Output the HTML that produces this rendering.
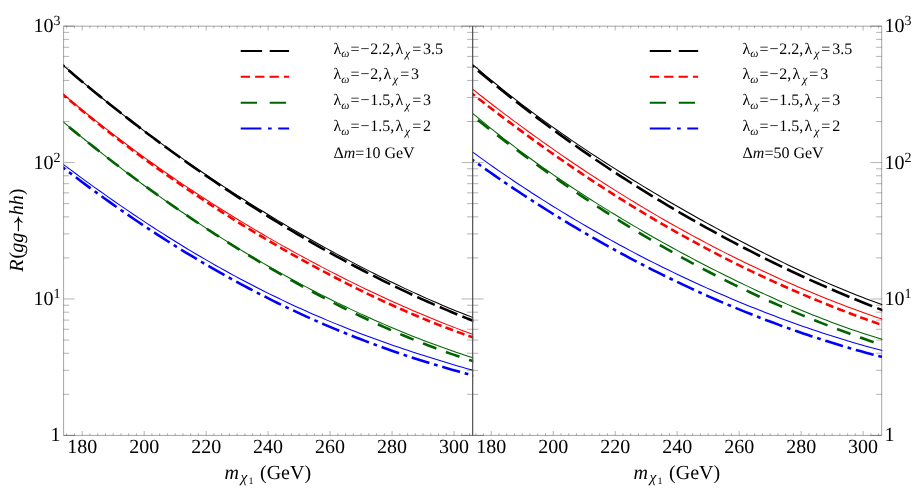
<!DOCTYPE html>
<html><head><meta charset="utf-8"><title>R(gg→hh)</title>
<style>html,body{margin:0;padding:0;background:#fff}body{width:922px;height:491px;overflow:hidden}</style>
</head><body>
<svg width="922" height="491" viewBox="0 0 922 491" style="display:block;will-change:transform">
<rect width="922" height="491" fill="#fff"/>
<defs>
<clipPath id="cl"><rect x="63.6" y="26.15" width="409.65" height="409.25"/></clipPath>
<clipPath id="cr"><rect x="472.65" y="26.15" width="409.65" height="409.25"/></clipPath>
</defs>
<g clip-path="url(#cl)" fill="none">
<path d="M51.10,54.43 L55.93,58.76 L60.76,63.05 L65.59,67.29 L70.42,71.49 L75.25,75.65 L80.07,79.76 L84.90,83.84 L89.73,87.88 L94.56,91.87 L99.39,95.83 L104.22,99.76 L109.05,103.64 L113.88,107.49 L118.71,111.30 L123.54,115.08 L128.36,118.83 L133.19,122.54 L138.02,126.22 L142.85,129.87 L147.68,133.48 L152.51,137.07 L157.34,140.62 L162.17,144.14 L167.00,147.63 L171.83,151.10 L176.65,154.53 L181.48,157.94 L186.31,161.31 L191.14,164.66 L195.97,167.99 L200.80,171.28 L205.63,174.55 L210.46,177.80 L215.29,181.01 L220.12,184.20 L224.95,187.37 L229.77,190.51 L234.60,193.63 L239.43,196.72 L244.26,199.79 L249.09,202.83 L253.92,205.85 L258.75,208.85 L263.58,211.82 L268.41,214.77 L273.24,217.69 L278.06,220.60 L282.89,223.48 L287.72,226.33 L292.55,229.16 L297.38,231.97 L302.21,234.76 L307.04,237.53 L311.87,240.27 L316.70,242.99 L321.53,245.68 L326.35,248.35 L331.18,251.00 L336.01,253.63 L340.84,256.23 L345.67,258.81 L350.50,261.37 L355.33,263.90 L360.16,266.41 L364.99,268.89 L369.82,271.35 L374.65,273.79 L379.47,276.20 L384.30,278.58 L389.13,280.95 L393.96,283.28 L398.79,285.59 L403.62,287.87 L408.45,290.13 L413.28,292.36 L418.11,294.56 L422.94,296.74 L427.76,298.88 L432.59,301.00 L437.42,303.09 L442.25,305.15 L447.08,307.18 L451.91,309.19 L456.74,311.16 L461.57,313.09 L466.40,315.00 L471.23,316.88 L476.05,318.72 L480.88,320.53" stroke="#000000" stroke-width="1.05"/>
<path d="M51.10,83.94 L55.93,88.08 L60.76,92.19 L65.59,96.25 L70.42,100.28 L75.25,104.27 L80.07,108.22 L84.90,112.13 L89.73,116.01 L94.56,119.85 L99.39,123.66 L104.22,127.43 L109.05,131.16 L113.88,134.86 L118.71,138.53 L123.54,142.17 L128.36,145.77 L133.19,149.34 L138.02,152.87 L142.85,156.38 L147.68,159.85 L152.51,163.30 L157.34,166.71 L162.17,170.10 L167.00,173.45 L171.83,176.77 L176.65,180.07 L181.48,183.34 L186.31,186.58 L191.14,189.79 L195.97,192.97 L200.80,196.13 L205.63,199.26 L210.46,202.36 L215.29,205.44 L220.12,208.49 L224.95,211.52 L229.77,214.52 L234.60,217.49 L239.43,220.44 L244.26,223.36 L249.09,226.26 L253.92,229.13 L258.75,231.98 L263.58,234.81 L268.41,237.61 L273.24,240.39 L278.06,243.14 L282.89,245.87 L287.72,248.57 L292.55,251.25 L297.38,253.91 L302.21,256.55 L307.04,259.16 L311.87,261.75 L316.70,264.31 L321.53,266.85 L326.35,269.37 L331.18,271.86 L336.01,274.34 L340.84,276.79 L345.67,279.21 L350.50,281.61 L355.33,283.99 L360.16,286.35 L364.99,288.68 L369.82,290.99 L374.65,293.27 L379.47,295.53 L384.30,297.77 L389.13,299.98 L393.96,302.17 L398.79,304.34 L403.62,306.48 L408.45,308.60 L413.28,310.69 L418.11,312.75 L422.94,314.80 L427.76,316.81 L432.59,318.81 L437.42,320.77 L442.25,322.71 L447.08,324.63 L451.91,326.51 L456.74,328.38 L461.57,330.21 L466.40,332.02 L471.23,333.80 L476.05,335.55 L480.88,337.27" stroke="#ff0000" stroke-width="1.05"/>
<path d="M51.10,111.45 L55.93,115.60 L60.76,119.71 L65.59,123.78 L70.42,127.83 L75.25,131.83 L80.07,135.81 L84.90,139.75 L89.73,143.65 L94.56,147.53 L99.39,151.37 L104.22,155.17 L109.05,158.95 L113.88,162.69 L118.71,166.40 L123.54,170.08 L128.36,173.72 L133.19,177.34 L138.02,180.92 L142.85,184.47 L147.68,187.99 L152.51,191.48 L157.34,194.94 L162.17,198.36 L167.00,201.76 L171.83,205.12 L176.65,208.46 L181.48,211.76 L186.31,215.04 L191.14,218.28 L195.97,221.50 L200.80,224.68 L205.63,227.84 L210.46,230.96 L215.29,234.06 L220.12,237.13 L224.95,240.16 L229.77,243.17 L234.60,246.15 L239.43,249.10 L244.26,252.02 L249.09,254.92 L253.92,257.78 L258.75,260.62 L263.58,263.42 L268.41,266.20 L273.24,268.95 L278.06,271.67 L282.89,274.37 L287.72,277.03 L292.55,279.67 L297.38,282.28 L302.21,284.86 L307.04,287.41 L311.87,289.93 L316.70,292.43 L321.53,294.89 L326.35,297.33 L331.18,299.74 L336.01,302.12 L340.84,304.48 L345.67,306.80 L350.50,309.10 L355.33,311.37 L360.16,313.61 L364.99,315.83 L369.82,318.01 L374.65,320.17 L379.47,322.29 L384.30,324.39 L389.13,326.46 L393.96,328.51 L398.79,330.52 L403.62,332.51 L408.45,334.46 L413.28,336.39 L418.11,338.29 L422.94,340.16 L427.76,342.00 L432.59,343.81 L437.42,345.59 L442.25,347.34 L447.08,349.07 L451.91,350.76 L456.74,352.43 L461.57,354.06 L466.40,355.66 L471.23,357.24 L476.05,358.78 L480.88,360.30" stroke="#006400" stroke-width="1.05"/>
<path d="M51.10,155.14 L55.93,158.80 L60.76,162.45 L65.59,166.07 L70.42,169.67 L75.25,173.24 L80.07,176.80 L84.90,180.32 L89.73,183.83 L94.56,187.31 L99.39,190.76 L104.22,194.19 L109.05,197.59 L113.88,200.97 L118.71,204.32 L123.54,207.64 L128.36,210.93 L133.19,214.20 L138.02,217.43 L142.85,220.64 L147.68,223.82 L152.51,226.97 L157.34,230.09 L162.17,233.18 L167.00,236.24 L171.83,239.27 L176.65,242.27 L181.48,245.24 L186.31,248.18 L191.14,251.09 L195.97,253.97 L200.80,256.82 L205.63,259.63 L210.46,262.41 L215.29,265.17 L220.12,267.89 L224.95,270.58 L229.77,273.24 L234.60,275.86 L239.43,278.46 L244.26,281.02 L249.09,283.55 L253.92,286.05 L258.75,288.52 L263.58,290.96 L268.41,293.37 L273.24,295.74 L278.06,298.09 L282.89,300.40 L287.72,302.68 L292.55,304.94 L297.38,307.16 L302.21,309.35 L307.04,311.51 L311.87,313.65 L316.70,315.75 L321.53,317.82 L326.35,319.87 L331.18,321.89 L336.01,323.87 L340.84,325.83 L345.67,327.77 L350.50,329.67 L355.33,331.55 L360.16,333.41 L364.99,335.23 L369.82,337.03 L374.65,338.81 L379.47,340.56 L384.30,342.29 L389.13,343.99 L393.96,345.67 L398.79,347.33 L403.62,348.96 L408.45,350.57 L413.28,352.16 L418.11,353.73 L422.94,355.29 L427.76,356.82 L432.59,358.33 L437.42,359.82 L442.25,361.30 L447.08,362.76 L451.91,364.21 L456.74,365.64 L461.57,367.05 L466.40,368.45 L471.23,369.84 L476.05,371.21 L480.88,372.57" stroke="#0000ff" stroke-width="1.05"/>
<path d="M51.10,55.17 L55.93,59.38 L60.76,63.55 L65.59,67.70 L70.42,71.81 L75.25,75.90 L80.07,79.95 L84.90,83.98 L89.73,87.97 L94.56,91.93 L99.39,95.87 L104.22,99.78 L109.05,103.66 L113.88,107.51 L118.71,111.33 L123.54,115.12 L128.36,118.88 L133.19,122.62 L138.02,126.33 L142.85,130.01 L147.68,133.67 L152.51,137.30 L157.34,140.90 L162.17,144.47 L167.00,148.02 L171.83,151.54 L176.65,155.03 L181.48,158.50 L186.31,161.94 L191.14,165.36 L195.97,168.75 L200.80,172.11 L205.63,175.45 L210.46,178.76 L215.29,182.05 L220.12,185.31 L224.95,188.55 L229.77,191.76 L234.60,194.95 L239.43,198.11 L244.26,201.25 L249.09,204.36 L253.92,207.44 L258.75,210.50 L263.58,213.54 L268.41,216.55 L273.24,219.54 L278.06,222.50 L282.89,225.43 L287.72,228.34 L292.55,231.23 L297.38,234.09 L302.21,236.93 L307.04,239.74 L311.87,242.53 L316.70,245.29 L321.53,248.03 L326.35,250.74 L331.18,253.42 L336.01,256.09 L340.84,258.72 L345.67,261.33 L350.50,263.92 L355.33,266.48 L360.16,269.01 L364.99,271.52 L369.82,274.01 L374.65,276.46 L379.47,278.90 L384.30,281.30 L389.13,283.68 L393.96,286.04 L398.79,288.36 L403.62,290.66 L408.45,292.94 L413.28,295.18 L418.11,297.40 L422.94,299.60 L427.76,301.76 L432.59,303.90 L437.42,306.01 L442.25,308.09 L447.08,310.15 L451.91,312.18 L456.74,314.18 L461.57,316.15 L466.40,318.09 L471.23,320.00 L476.05,321.88 L480.88,323.74" stroke="#000000" stroke-width="2.6" stroke-linecap="square" stroke-dasharray="16.47 8.08" stroke-dashoffset="0.22999999999999893"/>
<path d="M51.10,84.35 L55.93,88.55 L60.76,92.70 L65.59,96.81 L70.42,100.89 L75.25,104.92 L80.07,108.92 L84.90,112.89 L89.73,116.82 L94.56,120.71 L99.39,124.56 L104.22,128.39 L109.05,132.17 L113.88,135.93 L118.71,139.65 L123.54,143.34 L128.36,146.99 L133.19,150.62 L138.02,154.21 L142.85,157.78 L147.68,161.31 L152.51,164.81 L157.34,168.28 L162.17,171.73 L167.00,175.14 L171.83,178.53 L176.65,181.88 L181.48,185.21 L186.31,188.52 L191.14,191.79 L195.97,195.04 L200.80,198.26 L205.63,201.45 L210.46,204.62 L215.29,207.76 L220.12,210.87 L224.95,213.96 L229.77,217.02 L234.60,220.06 L239.43,223.07 L244.26,226.05 L249.09,229.01 L253.92,231.95 L258.75,234.86 L263.58,237.74 L268.41,240.60 L273.24,243.44 L278.06,246.25 L282.89,249.03 L287.72,251.79 L292.55,254.53 L297.38,257.24 L302.21,259.92 L307.04,262.58 L311.87,265.22 L316.70,267.83 L321.53,270.41 L326.35,272.97 L331.18,275.51 L336.01,278.01 L340.84,280.50 L345.67,282.95 L350.50,285.38 L355.33,287.78 L360.16,290.16 L364.99,292.51 L369.82,294.83 L374.65,297.13 L379.47,299.40 L384.30,301.64 L389.13,303.85 L393.96,306.03 L398.79,308.18 L403.62,310.31 L408.45,312.41 L413.28,314.47 L418.11,316.51 L422.94,318.51 L427.76,320.49 L432.59,322.43 L437.42,324.34 L442.25,326.22 L447.08,328.06 L451.91,329.88 L456.74,331.66 L461.57,333.40 L466.40,335.11 L471.23,336.79 L476.05,338.43 L480.88,340.03" stroke="#ff0000" stroke-width="2.6" stroke-linecap="square" stroke-dasharray="5.46 6.79" stroke-dashoffset="11.047500000000001"/>
<path d="M51.10,112.05 L55.93,116.13 L60.76,120.17 L65.59,124.19 L70.42,128.17 L75.25,132.13 L80.07,136.05 L84.90,139.94 L89.73,143.81 L94.56,147.64 L99.39,151.44 L104.22,155.22 L109.05,158.96 L113.88,162.68 L118.71,166.36 L123.54,170.02 L128.36,173.65 L133.19,177.26 L138.02,180.83 L142.85,184.38 L147.68,187.89 L152.51,191.39 L157.34,194.85 L162.17,198.29 L167.00,201.69 L171.83,205.08 L176.65,208.43 L181.48,211.76 L186.31,215.06 L191.14,218.33 L195.97,221.58 L200.80,224.80 L205.63,227.99 L210.46,231.16 L215.29,234.30 L220.12,237.42 L224.95,240.51 L229.77,243.57 L234.60,246.60 L239.43,249.61 L244.26,252.59 L249.09,255.55 L253.92,258.48 L258.75,261.38 L263.58,264.25 L268.41,267.10 L273.24,269.92 L278.06,272.72 L282.89,275.49 L287.72,278.23 L292.55,280.94 L297.38,283.63 L302.21,286.29 L307.04,288.92 L311.87,291.52 L316.70,294.10 L321.53,296.65 L326.35,299.17 L331.18,301.66 L336.01,304.12 L340.84,306.56 L345.67,308.96 L350.50,311.34 L355.33,313.69 L360.16,316.00 L364.99,318.29 L369.82,320.55 L374.65,322.78 L379.47,324.98 L384.30,327.15 L389.13,329.28 L393.96,331.39 L398.79,333.46 L403.62,335.51 L408.45,337.52 L413.28,339.49 L418.11,341.44 L422.94,343.35 L427.76,345.23 L432.59,347.08 L437.42,348.89 L442.25,350.67 L447.08,352.41 L451.91,354.12 L456.74,355.79 L461.57,357.42 L466.40,359.02 L471.23,360.59 L476.05,362.11 L480.88,363.60" stroke="#006400" stroke-width="2.6" stroke-linecap="square" stroke-dasharray="11.78 12.72" stroke-dashoffset="24.395"/>
<path d="M51.10,158.26 L55.93,162.03 L60.76,165.78 L65.59,169.50 L70.42,173.20 L75.25,176.86 L80.07,180.49 L84.90,184.10 L89.73,187.67 L94.56,191.21 L99.39,194.73 L104.22,198.21 L109.05,201.67 L113.88,205.09 L118.71,208.49 L123.54,211.85 L128.36,215.19 L133.19,218.49 L138.02,221.76 L142.85,225.01 L147.68,228.22 L152.51,231.40 L157.34,234.55 L162.17,237.67 L167.00,240.75 L171.83,243.81 L176.65,246.84 L181.48,249.83 L186.31,252.80 L191.14,255.73 L195.97,258.63 L200.80,261.50 L205.63,264.34 L210.46,267.15 L215.29,269.93 L220.12,272.67 L224.95,275.39 L229.77,278.07 L234.60,280.72 L239.43,283.35 L244.26,285.94 L249.09,288.50 L253.92,291.03 L258.75,293.53 L263.58,295.99 L268.41,298.43 L273.24,300.84 L278.06,303.22 L282.89,305.56 L287.72,307.88 L292.55,310.16 L297.38,312.42 L302.21,314.64 L307.04,316.84 L311.87,319.01 L316.70,321.14 L321.53,323.25 L326.35,325.33 L331.18,327.38 L336.01,329.40 L340.84,331.39 L345.67,333.35 L350.50,335.28 L355.33,337.19 L360.16,339.06 L364.99,340.91 L369.82,342.73 L374.65,344.53 L379.47,346.29 L384.30,348.03 L389.13,349.75 L393.96,351.43 L398.79,353.09 L403.62,354.72 L408.45,356.33 L413.28,357.91 L418.11,359.46 L422.94,360.99 L427.76,362.50 L432.59,363.97 L437.42,365.43 L442.25,366.86 L447.08,368.27 L451.91,369.65 L456.74,371.01 L461.57,372.34 L466.40,373.66 L471.23,374.95 L476.05,376.22 L480.88,377.46" stroke="#0000ff" stroke-width="2.6" stroke-linecap="square" stroke-dasharray="15.87 7.45 1.14 7.45" stroke-dashoffset="31.257690259943622"/>
</g>
<g clip-path="url(#cr)" fill="none">
<path d="M460.30,53.67 L465.13,57.95 L469.96,62.18 L474.79,66.36 L479.62,70.47 L484.45,74.54 L489.27,78.55 L494.10,82.51 L498.93,86.43 L503.76,90.29 L508.59,94.11 L513.42,97.88 L518.25,101.61 L523.08,105.30 L527.91,108.95 L532.74,112.55 L537.56,116.12 L542.39,119.65 L547.22,123.14 L552.05,126.60 L556.88,130.02 L561.71,133.40 L566.54,136.76 L571.37,140.08 L576.20,143.37 L581.03,146.63 L585.85,149.86 L590.68,153.07 L595.51,156.24 L600.34,159.39 L605.17,162.51 L610.00,165.61 L614.83,168.68 L619.66,171.72 L624.49,174.74 L629.32,177.74 L634.15,180.72 L638.97,183.67 L643.80,186.60 L648.63,189.51 L653.46,192.40 L658.29,195.27 L663.12,198.12 L667.95,200.94 L672.78,203.75 L677.61,206.54 L682.44,209.30 L687.26,212.05 L692.09,214.78 L696.92,217.49 L701.75,220.18 L706.58,222.85 L711.41,225.50 L716.24,228.14 L721.07,230.75 L725.90,233.35 L730.73,235.92 L735.55,238.48 L740.38,241.01 L745.21,243.53 L750.04,246.03 L754.87,248.50 L759.70,250.96 L764.53,253.39 L769.36,255.80 L774.19,258.19 L779.02,260.56 L783.85,262.90 L788.67,265.22 L793.50,267.52 L798.33,269.79 L803.16,272.04 L807.99,274.26 L812.82,276.46 L817.65,278.63 L822.48,280.77 L827.31,282.88 L832.14,284.96 L836.96,287.01 L841.79,289.04 L846.62,291.03 L851.45,292.98 L856.28,294.91 L861.11,296.79 L865.94,298.65 L870.77,300.46 L875.60,302.24 L880.43,303.98 L885.25,305.68 L890.08,307.33" stroke="#000000" stroke-width="1.05"/>
<path d="M460.30,79.43 L465.13,83.30 L469.96,87.15 L474.79,90.96 L479.62,94.76 L484.45,98.52 L489.27,102.26 L494.10,105.97 L498.93,109.66 L503.76,113.32 L508.59,116.95 L513.42,120.56 L518.25,124.14 L523.08,127.69 L527.91,131.21 L532.74,134.71 L537.56,138.18 L542.39,141.63 L547.22,145.05 L552.05,148.44 L556.88,151.81 L561.71,155.14 L566.54,158.46 L571.37,161.74 L576.20,165.00 L581.03,168.24 L585.85,171.44 L590.68,174.62 L595.51,177.78 L600.34,180.91 L605.17,184.01 L610.00,187.08 L614.83,190.13 L619.66,193.16 L624.49,196.15 L629.32,199.12 L634.15,202.07 L638.97,204.99 L643.80,207.88 L648.63,210.74 L653.46,213.58 L658.29,216.40 L663.12,219.19 L667.95,221.95 L672.78,224.69 L677.61,227.40 L682.44,230.08 L687.26,232.74 L692.09,235.38 L696.92,237.99 L701.75,240.57 L706.58,243.13 L711.41,245.66 L716.24,248.16 L721.07,250.65 L725.90,253.10 L730.73,255.53 L735.55,257.94 L740.38,260.32 L745.21,262.67 L750.04,265.00 L754.87,267.31 L759.70,269.59 L764.53,271.84 L769.36,274.07 L774.19,276.28 L779.02,278.46 L783.85,280.61 L788.67,282.74 L793.50,284.85 L798.33,286.93 L803.16,288.99 L807.99,291.02 L812.82,293.03 L817.65,295.01 L822.48,296.97 L827.31,298.91 L832.14,300.82 L836.96,302.71 L841.79,304.57 L846.62,306.41 L851.45,308.23 L856.28,310.02 L861.11,311.79 L865.94,313.53 L870.77,315.25 L875.60,316.95 L880.43,318.62 L885.25,320.27 L890.08,321.90" stroke="#ff0000" stroke-width="1.05"/>
<path d="M460.30,102.81 L465.13,106.99 L469.96,111.12 L474.79,115.19 L479.62,119.21 L484.45,123.17 L489.27,127.09 L494.10,130.96 L498.93,134.77 L503.76,138.54 L508.59,142.27 L513.42,145.94 L518.25,149.58 L523.08,153.17 L527.91,156.72 L532.74,160.23 L537.56,163.70 L542.39,167.13 L547.22,170.53 L552.05,173.89 L556.88,177.21 L561.71,180.49 L566.54,183.74 L571.37,186.96 L576.20,190.15 L581.03,193.30 L585.85,196.43 L590.68,199.52 L595.51,202.58 L600.34,205.62 L605.17,208.62 L610.00,211.60 L614.83,214.55 L619.66,217.47 L624.49,220.37 L629.32,223.24 L634.15,226.09 L638.97,228.91 L643.80,231.70 L648.63,234.48 L653.46,237.22 L658.29,239.95 L663.12,242.65 L667.95,245.33 L672.78,247.98 L677.61,250.61 L682.44,253.22 L687.26,255.81 L692.09,258.37 L696.92,260.92 L701.75,263.44 L706.58,265.93 L711.41,268.41 L716.24,270.86 L721.07,273.29 L725.90,275.70 L730.73,278.09 L735.55,280.45 L740.38,282.79 L745.21,285.11 L750.04,287.40 L754.87,289.67 L759.70,291.92 L764.53,294.14 L769.36,296.33 L774.19,298.51 L779.02,300.65 L783.85,302.77 L788.67,304.87 L793.50,306.94 L798.33,308.98 L803.16,310.99 L807.99,312.97 L812.82,314.93 L817.65,316.85 L822.48,318.75 L827.31,320.61 L832.14,322.44 L836.96,324.24 L841.79,326.01 L846.62,327.74 L851.45,329.43 L856.28,331.09 L861.11,332.72 L865.94,334.30 L870.77,335.85 L875.60,337.36 L880.43,338.83 L885.25,340.25 L890.08,341.64" stroke="#006400" stroke-width="1.05"/>
<path d="M460.30,142.98 L465.13,146.58 L469.96,150.15 L474.79,153.68 L479.62,157.18 L484.45,160.64 L489.27,164.07 L494.10,167.46 L498.93,170.82 L503.76,174.15 L508.59,177.44 L513.42,180.71 L518.25,183.94 L523.08,187.14 L527.91,190.30 L532.74,193.44 L537.56,196.55 L542.39,199.62 L547.22,202.67 L552.05,205.69 L556.88,208.67 L561.71,211.63 L566.54,214.56 L571.37,217.46 L576.20,220.33 L581.03,223.17 L585.85,225.99 L590.68,228.78 L595.51,231.54 L600.34,234.27 L605.17,236.98 L610.00,239.66 L614.83,242.31 L619.66,244.94 L624.49,247.54 L629.32,250.11 L634.15,252.66 L638.97,255.19 L643.80,257.68 L648.63,260.16 L653.46,262.60 L658.29,265.02 L663.12,267.42 L667.95,269.79 L672.78,272.14 L677.61,274.46 L682.44,276.76 L687.26,279.03 L692.09,281.28 L696.92,283.51 L701.75,285.71 L706.58,287.89 L711.41,290.04 L716.24,292.17 L721.07,294.27 L725.90,296.35 L730.73,298.41 L735.55,300.44 L740.38,302.45 L745.21,304.44 L750.04,306.40 L754.87,308.33 L759.70,310.25 L764.53,312.14 L769.36,314.00 L774.19,315.84 L779.02,317.66 L783.85,319.45 L788.67,321.22 L793.50,322.97 L798.33,324.69 L803.16,326.39 L807.99,328.06 L812.82,329.70 L817.65,331.33 L822.48,332.92 L827.31,334.50 L832.14,336.05 L836.96,337.57 L841.79,339.06 L846.62,340.54 L851.45,341.98 L856.28,343.40 L861.11,344.80 L865.94,346.17 L870.77,347.51 L875.60,348.83 L880.43,350.11 L885.25,351.38 L890.08,352.61" stroke="#0000ff" stroke-width="1.05"/>
<path d="M460.30,55.66 L465.13,59.82 L469.96,63.95 L474.79,68.04 L479.62,72.10 L484.45,76.12 L489.27,80.10 L494.10,84.05 L498.93,87.97 L503.76,91.85 L508.59,95.69 L513.42,99.51 L518.25,103.29 L523.08,107.04 L527.91,110.75 L532.74,114.44 L537.56,118.09 L542.39,121.71 L547.22,125.30 L552.05,128.85 L556.88,132.38 L561.71,135.88 L566.54,139.34 L571.37,142.78 L576.20,146.19 L581.03,149.56 L585.85,152.91 L590.68,156.23 L595.51,159.52 L600.34,162.78 L605.17,166.02 L610.00,169.23 L614.83,172.40 L619.66,175.56 L624.49,178.68 L629.32,181.78 L634.15,184.85 L638.97,187.89 L643.80,190.91 L648.63,193.90 L653.46,196.86 L658.29,199.80 L663.12,202.72 L667.95,205.61 L672.78,208.47 L677.61,211.31 L682.44,214.12 L687.26,216.91 L692.09,219.67 L696.92,222.41 L701.75,225.12 L706.58,227.81 L711.41,230.48 L716.24,233.12 L721.07,235.74 L725.90,238.34 L730.73,240.91 L735.55,243.46 L740.38,245.98 L745.21,248.48 L750.04,250.96 L754.87,253.42 L759.70,255.85 L764.53,258.26 L769.36,260.65 L774.19,263.01 L779.02,265.35 L783.85,267.67 L788.67,269.97 L793.50,272.24 L798.33,274.49 L803.16,276.72 L807.99,278.93 L812.82,281.11 L817.65,283.27 L822.48,285.41 L827.31,287.53 L832.14,289.63 L836.96,291.70 L841.79,293.75 L846.62,295.78 L851.45,297.79 L856.28,299.77 L861.11,301.74 L865.94,303.68 L870.77,305.60 L875.60,307.49 L880.43,309.37 L885.25,311.22 L890.08,313.05" stroke="#000000" stroke-width="2.6" stroke-linecap="square" stroke-dasharray="16.47 8.09" stroke-dashoffset="0.05666598778003994"/>
<path d="M460.30,84.33 L465.13,88.16 L469.96,91.97 L474.79,95.75 L479.62,99.51 L484.45,103.26 L489.27,106.98 L494.10,110.67 L498.93,114.35 L503.76,118.00 L508.59,121.63 L513.42,125.24 L518.25,128.82 L523.08,132.38 L527.91,135.91 L532.74,139.42 L537.56,142.91 L542.39,146.37 L547.22,149.80 L552.05,153.21 L556.88,156.60 L561.71,159.96 L566.54,163.30 L571.37,166.61 L576.20,169.90 L581.03,173.16 L585.85,176.39 L590.68,179.60 L595.51,182.78 L600.34,185.94 L605.17,189.06 L610.00,192.17 L614.83,195.24 L619.66,198.30 L624.49,201.32 L629.32,204.32 L634.15,207.29 L638.97,210.23 L643.80,213.15 L648.63,216.04 L653.46,218.90 L658.29,221.74 L663.12,224.55 L667.95,227.33 L672.78,230.09 L677.61,232.82 L682.44,235.53 L687.26,238.20 L692.09,240.85 L696.92,243.47 L701.75,246.07 L706.58,248.64 L711.41,251.18 L716.24,253.70 L721.07,256.19 L725.90,258.66 L730.73,261.09 L735.55,263.51 L740.38,265.89 L745.21,268.25 L750.04,270.59 L754.87,272.90 L759.70,275.18 L764.53,277.44 L769.36,279.67 L774.19,281.88 L779.02,284.06 L783.85,286.21 L788.67,288.35 L793.50,290.45 L798.33,292.54 L803.16,294.60 L807.99,296.63 L812.82,298.64 L817.65,300.63 L822.48,302.60 L827.31,304.54 L832.14,306.46 L836.96,308.35 L841.79,310.23 L846.62,312.08 L851.45,313.91 L856.28,315.72 L861.11,317.50 L865.94,319.27 L870.77,321.01 L875.60,322.74 L880.43,324.44 L885.25,326.12 L890.08,327.79" stroke="#ff0000" stroke-width="2.6" stroke-linecap="square" stroke-dasharray="5.46 6.82" stroke-dashoffset="0.49075000000000013"/>
<path d="M460.30,106.23 L465.13,110.09 L469.96,113.93 L474.79,117.75 L479.62,121.54 L484.45,125.31 L489.27,129.06 L494.10,132.79 L498.93,136.50 L503.76,140.18 L508.59,143.83 L513.42,147.47 L518.25,151.07 L523.08,154.66 L527.91,158.21 L532.74,161.75 L537.56,165.26 L542.39,168.74 L547.22,172.19 L552.05,175.62 L556.88,179.03 L561.71,182.40 L566.54,185.75 L571.37,189.08 L576.20,192.37 L581.03,195.64 L585.85,198.88 L590.68,202.09 L595.51,205.28 L600.34,208.44 L605.17,211.57 L610.00,214.67 L614.83,217.74 L619.66,220.79 L624.49,223.81 L629.32,226.80 L634.15,229.76 L638.97,232.69 L643.80,235.59 L648.63,238.47 L653.46,241.31 L658.29,244.13 L663.12,246.92 L667.95,249.68 L672.78,252.41 L677.61,255.11 L682.44,257.79 L687.26,260.44 L692.09,263.05 L696.92,265.64 L701.75,268.20 L706.58,270.74 L711.41,273.24 L716.24,275.72 L721.07,278.16 L725.90,280.59 L730.73,282.98 L735.55,285.34 L740.38,287.68 L745.21,289.99 L750.04,292.27 L754.87,294.53 L759.70,296.76 L764.53,298.96 L769.36,301.14 L774.19,303.29 L779.02,305.41 L783.85,307.51 L788.67,309.58 L793.50,311.63 L798.33,313.65 L803.16,315.65 L807.99,317.62 L812.82,319.57 L817.65,321.50 L822.48,323.40 L827.31,325.28 L832.14,327.13 L836.96,328.96 L841.79,330.77 L846.62,332.56 L851.45,334.33 L856.28,336.07 L861.11,337.79 L865.94,339.50 L870.77,341.18 L875.60,342.84 L880.43,344.49 L885.25,346.11 L890.08,347.72" stroke="#006400" stroke-width="2.6" stroke-linecap="square" stroke-dasharray="11.78 12.76" stroke-dashoffset="0.8462499999999997"/>
<path d="M460.30,150.95 L465.13,154.50 L469.96,158.01 L474.79,161.50 L479.62,164.96 L484.45,168.39 L489.27,171.78 L494.10,175.15 L498.93,178.49 L503.76,181.80 L508.59,185.08 L513.42,188.32 L518.25,191.54 L523.08,194.74 L527.91,197.90 L532.74,201.03 L537.56,204.13 L542.39,207.21 L547.22,210.25 L552.05,213.27 L556.88,216.26 L561.71,219.22 L566.54,222.16 L571.37,225.06 L576.20,227.94 L581.03,230.79 L585.85,233.62 L590.68,236.41 L595.51,239.18 L600.34,241.92 L605.17,244.63 L610.00,247.32 L614.83,249.98 L619.66,252.61 L624.49,255.22 L629.32,257.80 L634.15,260.35 L638.97,262.87 L643.80,265.37 L648.63,267.85 L653.46,270.29 L658.29,272.71 L663.12,275.11 L667.95,277.48 L672.78,279.82 L677.61,282.13 L682.44,284.42 L687.26,286.69 L692.09,288.93 L696.92,291.14 L701.75,293.33 L706.58,295.49 L711.41,297.63 L716.24,299.74 L721.07,301.82 L725.90,303.88 L730.73,305.92 L735.55,307.93 L740.38,309.91 L745.21,311.87 L750.04,313.80 L754.87,315.71 L759.70,317.59 L764.53,319.45 L769.36,321.28 L774.19,323.09 L779.02,324.88 L783.85,326.63 L788.67,328.37 L793.50,330.07 L798.33,331.76 L803.16,333.42 L807.99,335.05 L812.82,336.66 L817.65,338.24 L822.48,339.80 L827.31,341.33 L832.14,342.84 L836.96,344.32 L841.79,345.78 L846.62,347.22 L851.45,348.62 L856.28,350.01 L861.11,351.37 L865.94,352.70 L870.77,354.01 L875.60,355.29 L880.43,356.55 L885.25,357.79 L890.08,359.00" stroke="#0000ff" stroke-width="2.6" stroke-linecap="square" stroke-dasharray="15.87 7.44 1.14 7.44" stroke-dashoffset="0.05025367992483254"/>
</g>
<line x1="63.60" y1="26.15" x2="472.65" y2="26.15" stroke="#000" stroke-width="0.36"/>
<line x1="63.60" y1="435.40" x2="472.65" y2="435.40" stroke="#000" stroke-width="0.36"/>
<line x1="63.60" y1="26.15" x2="63.60" y2="435.40" stroke="#000" stroke-width="0.36"/>
<line x1="472.65" y1="26.15" x2="472.65" y2="435.40" stroke="#000" stroke-width="0.36"/>
<line x1="66.70" y1="435.40" x2="66.70" y2="433.20" stroke="#000" stroke-width="0.3"/>
<line x1="66.70" y1="26.15" x2="66.70" y2="28.35" stroke="#000" stroke-width="0.3"/>
<line x1="74.45" y1="435.40" x2="74.45" y2="433.20" stroke="#000" stroke-width="0.3"/>
<line x1="74.45" y1="26.15" x2="74.45" y2="28.35" stroke="#000" stroke-width="0.3"/>
<line x1="82.19" y1="435.40" x2="82.19" y2="431.00" stroke="#000" stroke-width="0.3"/>
<line x1="82.19" y1="26.15" x2="82.19" y2="30.55" stroke="#000" stroke-width="0.3"/>
<line x1="89.94" y1="435.40" x2="89.94" y2="433.20" stroke="#000" stroke-width="0.3"/>
<line x1="89.94" y1="26.15" x2="89.94" y2="28.35" stroke="#000" stroke-width="0.3"/>
<line x1="97.69" y1="435.40" x2="97.69" y2="433.20" stroke="#000" stroke-width="0.3"/>
<line x1="97.69" y1="26.15" x2="97.69" y2="28.35" stroke="#000" stroke-width="0.3"/>
<line x1="105.43" y1="435.40" x2="105.43" y2="433.20" stroke="#000" stroke-width="0.3"/>
<line x1="105.43" y1="26.15" x2="105.43" y2="28.35" stroke="#000" stroke-width="0.3"/>
<line x1="113.18" y1="435.40" x2="113.18" y2="433.20" stroke="#000" stroke-width="0.3"/>
<line x1="113.18" y1="26.15" x2="113.18" y2="28.35" stroke="#000" stroke-width="0.3"/>
<line x1="120.93" y1="435.40" x2="120.93" y2="433.20" stroke="#000" stroke-width="0.3"/>
<line x1="120.93" y1="26.15" x2="120.93" y2="28.35" stroke="#000" stroke-width="0.3"/>
<line x1="128.68" y1="435.40" x2="128.68" y2="433.20" stroke="#000" stroke-width="0.3"/>
<line x1="128.68" y1="26.15" x2="128.68" y2="28.35" stroke="#000" stroke-width="0.3"/>
<line x1="136.42" y1="435.40" x2="136.42" y2="433.20" stroke="#000" stroke-width="0.3"/>
<line x1="136.42" y1="26.15" x2="136.42" y2="28.35" stroke="#000" stroke-width="0.3"/>
<line x1="144.17" y1="435.40" x2="144.17" y2="431.00" stroke="#000" stroke-width="0.3"/>
<line x1="144.17" y1="26.15" x2="144.17" y2="30.55" stroke="#000" stroke-width="0.3"/>
<line x1="151.92" y1="435.40" x2="151.92" y2="433.20" stroke="#000" stroke-width="0.3"/>
<line x1="151.92" y1="26.15" x2="151.92" y2="28.35" stroke="#000" stroke-width="0.3"/>
<line x1="159.66" y1="435.40" x2="159.66" y2="433.20" stroke="#000" stroke-width="0.3"/>
<line x1="159.66" y1="26.15" x2="159.66" y2="28.35" stroke="#000" stroke-width="0.3"/>
<line x1="167.41" y1="435.40" x2="167.41" y2="433.20" stroke="#000" stroke-width="0.3"/>
<line x1="167.41" y1="26.15" x2="167.41" y2="28.35" stroke="#000" stroke-width="0.3"/>
<line x1="175.16" y1="435.40" x2="175.16" y2="433.20" stroke="#000" stroke-width="0.3"/>
<line x1="175.16" y1="26.15" x2="175.16" y2="28.35" stroke="#000" stroke-width="0.3"/>
<line x1="182.91" y1="435.40" x2="182.91" y2="433.20" stroke="#000" stroke-width="0.3"/>
<line x1="182.91" y1="26.15" x2="182.91" y2="28.35" stroke="#000" stroke-width="0.3"/>
<line x1="190.65" y1="435.40" x2="190.65" y2="433.20" stroke="#000" stroke-width="0.3"/>
<line x1="190.65" y1="26.15" x2="190.65" y2="28.35" stroke="#000" stroke-width="0.3"/>
<line x1="198.40" y1="435.40" x2="198.40" y2="433.20" stroke="#000" stroke-width="0.3"/>
<line x1="198.40" y1="26.15" x2="198.40" y2="28.35" stroke="#000" stroke-width="0.3"/>
<line x1="206.15" y1="435.40" x2="206.15" y2="431.00" stroke="#000" stroke-width="0.3"/>
<line x1="206.15" y1="26.15" x2="206.15" y2="30.55" stroke="#000" stroke-width="0.3"/>
<line x1="213.89" y1="435.40" x2="213.89" y2="433.20" stroke="#000" stroke-width="0.3"/>
<line x1="213.89" y1="26.15" x2="213.89" y2="28.35" stroke="#000" stroke-width="0.3"/>
<line x1="221.64" y1="435.40" x2="221.64" y2="433.20" stroke="#000" stroke-width="0.3"/>
<line x1="221.64" y1="26.15" x2="221.64" y2="28.35" stroke="#000" stroke-width="0.3"/>
<line x1="229.39" y1="435.40" x2="229.39" y2="433.20" stroke="#000" stroke-width="0.3"/>
<line x1="229.39" y1="26.15" x2="229.39" y2="28.35" stroke="#000" stroke-width="0.3"/>
<line x1="237.14" y1="435.40" x2="237.14" y2="433.20" stroke="#000" stroke-width="0.3"/>
<line x1="237.14" y1="26.15" x2="237.14" y2="28.35" stroke="#000" stroke-width="0.3"/>
<line x1="244.88" y1="435.40" x2="244.88" y2="433.20" stroke="#000" stroke-width="0.3"/>
<line x1="244.88" y1="26.15" x2="244.88" y2="28.35" stroke="#000" stroke-width="0.3"/>
<line x1="252.63" y1="435.40" x2="252.63" y2="433.20" stroke="#000" stroke-width="0.3"/>
<line x1="252.63" y1="26.15" x2="252.63" y2="28.35" stroke="#000" stroke-width="0.3"/>
<line x1="260.38" y1="435.40" x2="260.38" y2="433.20" stroke="#000" stroke-width="0.3"/>
<line x1="260.38" y1="26.15" x2="260.38" y2="28.35" stroke="#000" stroke-width="0.3"/>
<line x1="268.12" y1="435.40" x2="268.12" y2="431.00" stroke="#000" stroke-width="0.3"/>
<line x1="268.12" y1="26.15" x2="268.12" y2="30.55" stroke="#000" stroke-width="0.3"/>
<line x1="275.87" y1="435.40" x2="275.87" y2="433.20" stroke="#000" stroke-width="0.3"/>
<line x1="275.87" y1="26.15" x2="275.87" y2="28.35" stroke="#000" stroke-width="0.3"/>
<line x1="283.62" y1="435.40" x2="283.62" y2="433.20" stroke="#000" stroke-width="0.3"/>
<line x1="283.62" y1="26.15" x2="283.62" y2="28.35" stroke="#000" stroke-width="0.3"/>
<line x1="291.37" y1="435.40" x2="291.37" y2="433.20" stroke="#000" stroke-width="0.3"/>
<line x1="291.37" y1="26.15" x2="291.37" y2="28.35" stroke="#000" stroke-width="0.3"/>
<line x1="299.11" y1="435.40" x2="299.11" y2="433.20" stroke="#000" stroke-width="0.3"/>
<line x1="299.11" y1="26.15" x2="299.11" y2="28.35" stroke="#000" stroke-width="0.3"/>
<line x1="306.86" y1="435.40" x2="306.86" y2="433.20" stroke="#000" stroke-width="0.3"/>
<line x1="306.86" y1="26.15" x2="306.86" y2="28.35" stroke="#000" stroke-width="0.3"/>
<line x1="314.61" y1="435.40" x2="314.61" y2="433.20" stroke="#000" stroke-width="0.3"/>
<line x1="314.61" y1="26.15" x2="314.61" y2="28.35" stroke="#000" stroke-width="0.3"/>
<line x1="322.36" y1="435.40" x2="322.36" y2="433.20" stroke="#000" stroke-width="0.3"/>
<line x1="322.36" y1="26.15" x2="322.36" y2="28.35" stroke="#000" stroke-width="0.3"/>
<line x1="330.10" y1="435.40" x2="330.10" y2="431.00" stroke="#000" stroke-width="0.3"/>
<line x1="330.10" y1="26.15" x2="330.10" y2="30.55" stroke="#000" stroke-width="0.3"/>
<line x1="337.85" y1="435.40" x2="337.85" y2="433.20" stroke="#000" stroke-width="0.3"/>
<line x1="337.85" y1="26.15" x2="337.85" y2="28.35" stroke="#000" stroke-width="0.3"/>
<line x1="345.60" y1="435.40" x2="345.60" y2="433.20" stroke="#000" stroke-width="0.3"/>
<line x1="345.60" y1="26.15" x2="345.60" y2="28.35" stroke="#000" stroke-width="0.3"/>
<line x1="353.34" y1="435.40" x2="353.34" y2="433.20" stroke="#000" stroke-width="0.3"/>
<line x1="353.34" y1="26.15" x2="353.34" y2="28.35" stroke="#000" stroke-width="0.3"/>
<line x1="361.09" y1="435.40" x2="361.09" y2="433.20" stroke="#000" stroke-width="0.3"/>
<line x1="361.09" y1="26.15" x2="361.09" y2="28.35" stroke="#000" stroke-width="0.3"/>
<line x1="368.84" y1="435.40" x2="368.84" y2="433.20" stroke="#000" stroke-width="0.3"/>
<line x1="368.84" y1="26.15" x2="368.84" y2="28.35" stroke="#000" stroke-width="0.3"/>
<line x1="376.59" y1="435.40" x2="376.59" y2="433.20" stroke="#000" stroke-width="0.3"/>
<line x1="376.59" y1="26.15" x2="376.59" y2="28.35" stroke="#000" stroke-width="0.3"/>
<line x1="384.33" y1="435.40" x2="384.33" y2="433.20" stroke="#000" stroke-width="0.3"/>
<line x1="384.33" y1="26.15" x2="384.33" y2="28.35" stroke="#000" stroke-width="0.3"/>
<line x1="392.08" y1="435.40" x2="392.08" y2="431.00" stroke="#000" stroke-width="0.3"/>
<line x1="392.08" y1="26.15" x2="392.08" y2="30.55" stroke="#000" stroke-width="0.3"/>
<line x1="399.83" y1="435.40" x2="399.83" y2="433.20" stroke="#000" stroke-width="0.3"/>
<line x1="399.83" y1="26.15" x2="399.83" y2="28.35" stroke="#000" stroke-width="0.3"/>
<line x1="407.57" y1="435.40" x2="407.57" y2="433.20" stroke="#000" stroke-width="0.3"/>
<line x1="407.57" y1="26.15" x2="407.57" y2="28.35" stroke="#000" stroke-width="0.3"/>
<line x1="415.32" y1="435.40" x2="415.32" y2="433.20" stroke="#000" stroke-width="0.3"/>
<line x1="415.32" y1="26.15" x2="415.32" y2="28.35" stroke="#000" stroke-width="0.3"/>
<line x1="423.07" y1="435.40" x2="423.07" y2="433.20" stroke="#000" stroke-width="0.3"/>
<line x1="423.07" y1="26.15" x2="423.07" y2="28.35" stroke="#000" stroke-width="0.3"/>
<line x1="430.82" y1="435.40" x2="430.82" y2="433.20" stroke="#000" stroke-width="0.3"/>
<line x1="430.82" y1="26.15" x2="430.82" y2="28.35" stroke="#000" stroke-width="0.3"/>
<line x1="438.56" y1="435.40" x2="438.56" y2="433.20" stroke="#000" stroke-width="0.3"/>
<line x1="438.56" y1="26.15" x2="438.56" y2="28.35" stroke="#000" stroke-width="0.3"/>
<line x1="446.31" y1="435.40" x2="446.31" y2="433.20" stroke="#000" stroke-width="0.3"/>
<line x1="446.31" y1="26.15" x2="446.31" y2="28.35" stroke="#000" stroke-width="0.3"/>
<line x1="454.06" y1="435.40" x2="454.06" y2="431.00" stroke="#000" stroke-width="0.3"/>
<line x1="454.06" y1="26.15" x2="454.06" y2="30.55" stroke="#000" stroke-width="0.3"/>
<line x1="461.80" y1="435.40" x2="461.80" y2="433.20" stroke="#000" stroke-width="0.3"/>
<line x1="461.80" y1="26.15" x2="461.80" y2="28.35" stroke="#000" stroke-width="0.3"/>
<line x1="469.55" y1="435.40" x2="469.55" y2="433.20" stroke="#000" stroke-width="0.3"/>
<line x1="469.55" y1="26.15" x2="469.55" y2="28.35" stroke="#000" stroke-width="0.3"/>
<line x1="63.60" y1="435.40" x2="74.60" y2="435.40" stroke="#000" stroke-width="0.3"/>
<line x1="472.65" y1="435.40" x2="461.65" y2="435.40" stroke="#000" stroke-width="0.3"/>
<line x1="63.60" y1="394.33" x2="69.20" y2="394.33" stroke="#000" stroke-width="0.3"/>
<line x1="472.65" y1="394.33" x2="467.05" y2="394.33" stroke="#000" stroke-width="0.3"/>
<line x1="63.60" y1="370.31" x2="69.20" y2="370.31" stroke="#000" stroke-width="0.3"/>
<line x1="472.65" y1="370.31" x2="467.05" y2="370.31" stroke="#000" stroke-width="0.3"/>
<line x1="63.60" y1="353.27" x2="69.20" y2="353.27" stroke="#000" stroke-width="0.3"/>
<line x1="472.65" y1="353.27" x2="467.05" y2="353.27" stroke="#000" stroke-width="0.3"/>
<line x1="63.60" y1="340.05" x2="69.20" y2="340.05" stroke="#000" stroke-width="0.3"/>
<line x1="472.65" y1="340.05" x2="467.05" y2="340.05" stroke="#000" stroke-width="0.3"/>
<line x1="63.60" y1="329.25" x2="69.20" y2="329.25" stroke="#000" stroke-width="0.3"/>
<line x1="472.65" y1="329.25" x2="467.05" y2="329.25" stroke="#000" stroke-width="0.3"/>
<line x1="63.60" y1="320.11" x2="69.20" y2="320.11" stroke="#000" stroke-width="0.3"/>
<line x1="472.65" y1="320.11" x2="467.05" y2="320.11" stroke="#000" stroke-width="0.3"/>
<line x1="63.60" y1="312.20" x2="69.20" y2="312.20" stroke="#000" stroke-width="0.3"/>
<line x1="472.65" y1="312.20" x2="467.05" y2="312.20" stroke="#000" stroke-width="0.3"/>
<line x1="63.60" y1="305.23" x2="69.20" y2="305.23" stroke="#000" stroke-width="0.3"/>
<line x1="472.65" y1="305.23" x2="467.05" y2="305.23" stroke="#000" stroke-width="0.3"/>
<line x1="63.60" y1="298.98" x2="74.60" y2="298.98" stroke="#000" stroke-width="0.3"/>
<line x1="472.65" y1="298.98" x2="461.65" y2="298.98" stroke="#000" stroke-width="0.3"/>
<line x1="63.60" y1="257.92" x2="69.20" y2="257.92" stroke="#000" stroke-width="0.3"/>
<line x1="472.65" y1="257.92" x2="467.05" y2="257.92" stroke="#000" stroke-width="0.3"/>
<line x1="63.60" y1="233.90" x2="69.20" y2="233.90" stroke="#000" stroke-width="0.3"/>
<line x1="472.65" y1="233.90" x2="467.05" y2="233.90" stroke="#000" stroke-width="0.3"/>
<line x1="63.60" y1="216.85" x2="69.20" y2="216.85" stroke="#000" stroke-width="0.3"/>
<line x1="472.65" y1="216.85" x2="467.05" y2="216.85" stroke="#000" stroke-width="0.3"/>
<line x1="63.60" y1="203.63" x2="69.20" y2="203.63" stroke="#000" stroke-width="0.3"/>
<line x1="472.65" y1="203.63" x2="467.05" y2="203.63" stroke="#000" stroke-width="0.3"/>
<line x1="63.60" y1="192.83" x2="69.20" y2="192.83" stroke="#000" stroke-width="0.3"/>
<line x1="472.65" y1="192.83" x2="467.05" y2="192.83" stroke="#000" stroke-width="0.3"/>
<line x1="63.60" y1="183.70" x2="69.20" y2="183.70" stroke="#000" stroke-width="0.3"/>
<line x1="472.65" y1="183.70" x2="467.05" y2="183.70" stroke="#000" stroke-width="0.3"/>
<line x1="63.60" y1="175.79" x2="69.20" y2="175.79" stroke="#000" stroke-width="0.3"/>
<line x1="472.65" y1="175.79" x2="467.05" y2="175.79" stroke="#000" stroke-width="0.3"/>
<line x1="63.60" y1="168.81" x2="69.20" y2="168.81" stroke="#000" stroke-width="0.3"/>
<line x1="472.65" y1="168.81" x2="467.05" y2="168.81" stroke="#000" stroke-width="0.3"/>
<line x1="63.60" y1="162.57" x2="74.60" y2="162.57" stroke="#000" stroke-width="0.3"/>
<line x1="472.65" y1="162.57" x2="461.65" y2="162.57" stroke="#000" stroke-width="0.3"/>
<line x1="63.60" y1="121.50" x2="69.20" y2="121.50" stroke="#000" stroke-width="0.3"/>
<line x1="472.65" y1="121.50" x2="467.05" y2="121.50" stroke="#000" stroke-width="0.3"/>
<line x1="63.60" y1="97.48" x2="69.20" y2="97.48" stroke="#000" stroke-width="0.3"/>
<line x1="472.65" y1="97.48" x2="467.05" y2="97.48" stroke="#000" stroke-width="0.3"/>
<line x1="63.60" y1="80.44" x2="69.20" y2="80.44" stroke="#000" stroke-width="0.3"/>
<line x1="472.65" y1="80.44" x2="467.05" y2="80.44" stroke="#000" stroke-width="0.3"/>
<line x1="63.60" y1="67.22" x2="69.20" y2="67.22" stroke="#000" stroke-width="0.3"/>
<line x1="472.65" y1="67.22" x2="467.05" y2="67.22" stroke="#000" stroke-width="0.3"/>
<line x1="63.60" y1="56.41" x2="69.20" y2="56.41" stroke="#000" stroke-width="0.3"/>
<line x1="472.65" y1="56.41" x2="467.05" y2="56.41" stroke="#000" stroke-width="0.3"/>
<line x1="63.60" y1="47.28" x2="69.20" y2="47.28" stroke="#000" stroke-width="0.3"/>
<line x1="472.65" y1="47.28" x2="467.05" y2="47.28" stroke="#000" stroke-width="0.3"/>
<line x1="63.60" y1="39.37" x2="69.20" y2="39.37" stroke="#000" stroke-width="0.3"/>
<line x1="472.65" y1="39.37" x2="467.05" y2="39.37" stroke="#000" stroke-width="0.3"/>
<line x1="63.60" y1="32.39" x2="69.20" y2="32.39" stroke="#000" stroke-width="0.3"/>
<line x1="472.65" y1="32.39" x2="467.05" y2="32.39" stroke="#000" stroke-width="0.3"/>
<line x1="63.60" y1="26.15" x2="74.60" y2="26.15" stroke="#000" stroke-width="0.3"/>
<line x1="472.65" y1="26.15" x2="461.65" y2="26.15" stroke="#000" stroke-width="0.3"/>
<line x1="472.65" y1="26.15" x2="881.70" y2="26.15" stroke="#000" stroke-width="0.36"/>
<line x1="472.65" y1="435.40" x2="881.70" y2="435.40" stroke="#000" stroke-width="0.36"/>
<line x1="472.65" y1="26.15" x2="472.65" y2="435.40" stroke="#000" stroke-width="0.36"/>
<line x1="881.70" y1="26.15" x2="881.70" y2="435.40" stroke="#000" stroke-width="0.36"/>
<line x1="475.75" y1="435.40" x2="475.75" y2="433.20" stroke="#000" stroke-width="0.3"/>
<line x1="475.75" y1="26.15" x2="475.75" y2="28.35" stroke="#000" stroke-width="0.3"/>
<line x1="483.50" y1="435.40" x2="483.50" y2="433.20" stroke="#000" stroke-width="0.3"/>
<line x1="483.50" y1="26.15" x2="483.50" y2="28.35" stroke="#000" stroke-width="0.3"/>
<line x1="491.24" y1="435.40" x2="491.24" y2="431.00" stroke="#000" stroke-width="0.3"/>
<line x1="491.24" y1="26.15" x2="491.24" y2="30.55" stroke="#000" stroke-width="0.3"/>
<line x1="498.99" y1="435.40" x2="498.99" y2="433.20" stroke="#000" stroke-width="0.3"/>
<line x1="498.99" y1="26.15" x2="498.99" y2="28.35" stroke="#000" stroke-width="0.3"/>
<line x1="506.74" y1="435.40" x2="506.74" y2="433.20" stroke="#000" stroke-width="0.3"/>
<line x1="506.74" y1="26.15" x2="506.74" y2="28.35" stroke="#000" stroke-width="0.3"/>
<line x1="514.48" y1="435.40" x2="514.48" y2="433.20" stroke="#000" stroke-width="0.3"/>
<line x1="514.48" y1="26.15" x2="514.48" y2="28.35" stroke="#000" stroke-width="0.3"/>
<line x1="522.23" y1="435.40" x2="522.23" y2="433.20" stroke="#000" stroke-width="0.3"/>
<line x1="522.23" y1="26.15" x2="522.23" y2="28.35" stroke="#000" stroke-width="0.3"/>
<line x1="529.98" y1="435.40" x2="529.98" y2="433.20" stroke="#000" stroke-width="0.3"/>
<line x1="529.98" y1="26.15" x2="529.98" y2="28.35" stroke="#000" stroke-width="0.3"/>
<line x1="537.73" y1="435.40" x2="537.73" y2="433.20" stroke="#000" stroke-width="0.3"/>
<line x1="537.73" y1="26.15" x2="537.73" y2="28.35" stroke="#000" stroke-width="0.3"/>
<line x1="545.47" y1="435.40" x2="545.47" y2="433.20" stroke="#000" stroke-width="0.3"/>
<line x1="545.47" y1="26.15" x2="545.47" y2="28.35" stroke="#000" stroke-width="0.3"/>
<line x1="553.22" y1="435.40" x2="553.22" y2="431.00" stroke="#000" stroke-width="0.3"/>
<line x1="553.22" y1="26.15" x2="553.22" y2="30.55" stroke="#000" stroke-width="0.3"/>
<line x1="560.97" y1="435.40" x2="560.97" y2="433.20" stroke="#000" stroke-width="0.3"/>
<line x1="560.97" y1="26.15" x2="560.97" y2="28.35" stroke="#000" stroke-width="0.3"/>
<line x1="568.71" y1="435.40" x2="568.71" y2="433.20" stroke="#000" stroke-width="0.3"/>
<line x1="568.71" y1="26.15" x2="568.71" y2="28.35" stroke="#000" stroke-width="0.3"/>
<line x1="576.46" y1="435.40" x2="576.46" y2="433.20" stroke="#000" stroke-width="0.3"/>
<line x1="576.46" y1="26.15" x2="576.46" y2="28.35" stroke="#000" stroke-width="0.3"/>
<line x1="584.21" y1="435.40" x2="584.21" y2="433.20" stroke="#000" stroke-width="0.3"/>
<line x1="584.21" y1="26.15" x2="584.21" y2="28.35" stroke="#000" stroke-width="0.3"/>
<line x1="591.96" y1="435.40" x2="591.96" y2="433.20" stroke="#000" stroke-width="0.3"/>
<line x1="591.96" y1="26.15" x2="591.96" y2="28.35" stroke="#000" stroke-width="0.3"/>
<line x1="599.70" y1="435.40" x2="599.70" y2="433.20" stroke="#000" stroke-width="0.3"/>
<line x1="599.70" y1="26.15" x2="599.70" y2="28.35" stroke="#000" stroke-width="0.3"/>
<line x1="607.45" y1="435.40" x2="607.45" y2="433.20" stroke="#000" stroke-width="0.3"/>
<line x1="607.45" y1="26.15" x2="607.45" y2="28.35" stroke="#000" stroke-width="0.3"/>
<line x1="615.20" y1="435.40" x2="615.20" y2="431.00" stroke="#000" stroke-width="0.3"/>
<line x1="615.20" y1="26.15" x2="615.20" y2="30.55" stroke="#000" stroke-width="0.3"/>
<line x1="622.94" y1="435.40" x2="622.94" y2="433.20" stroke="#000" stroke-width="0.3"/>
<line x1="622.94" y1="26.15" x2="622.94" y2="28.35" stroke="#000" stroke-width="0.3"/>
<line x1="630.69" y1="435.40" x2="630.69" y2="433.20" stroke="#000" stroke-width="0.3"/>
<line x1="630.69" y1="26.15" x2="630.69" y2="28.35" stroke="#000" stroke-width="0.3"/>
<line x1="638.44" y1="435.40" x2="638.44" y2="433.20" stroke="#000" stroke-width="0.3"/>
<line x1="638.44" y1="26.15" x2="638.44" y2="28.35" stroke="#000" stroke-width="0.3"/>
<line x1="646.19" y1="435.40" x2="646.19" y2="433.20" stroke="#000" stroke-width="0.3"/>
<line x1="646.19" y1="26.15" x2="646.19" y2="28.35" stroke="#000" stroke-width="0.3"/>
<line x1="653.93" y1="435.40" x2="653.93" y2="433.20" stroke="#000" stroke-width="0.3"/>
<line x1="653.93" y1="26.15" x2="653.93" y2="28.35" stroke="#000" stroke-width="0.3"/>
<line x1="661.68" y1="435.40" x2="661.68" y2="433.20" stroke="#000" stroke-width="0.3"/>
<line x1="661.68" y1="26.15" x2="661.68" y2="28.35" stroke="#000" stroke-width="0.3"/>
<line x1="669.43" y1="435.40" x2="669.43" y2="433.20" stroke="#000" stroke-width="0.3"/>
<line x1="669.43" y1="26.15" x2="669.43" y2="28.35" stroke="#000" stroke-width="0.3"/>
<line x1="677.17" y1="435.40" x2="677.17" y2="431.00" stroke="#000" stroke-width="0.3"/>
<line x1="677.17" y1="26.15" x2="677.17" y2="30.55" stroke="#000" stroke-width="0.3"/>
<line x1="684.92" y1="435.40" x2="684.92" y2="433.20" stroke="#000" stroke-width="0.3"/>
<line x1="684.92" y1="26.15" x2="684.92" y2="28.35" stroke="#000" stroke-width="0.3"/>
<line x1="692.67" y1="435.40" x2="692.67" y2="433.20" stroke="#000" stroke-width="0.3"/>
<line x1="692.67" y1="26.15" x2="692.67" y2="28.35" stroke="#000" stroke-width="0.3"/>
<line x1="700.42" y1="435.40" x2="700.42" y2="433.20" stroke="#000" stroke-width="0.3"/>
<line x1="700.42" y1="26.15" x2="700.42" y2="28.35" stroke="#000" stroke-width="0.3"/>
<line x1="708.16" y1="435.40" x2="708.16" y2="433.20" stroke="#000" stroke-width="0.3"/>
<line x1="708.16" y1="26.15" x2="708.16" y2="28.35" stroke="#000" stroke-width="0.3"/>
<line x1="715.91" y1="435.40" x2="715.91" y2="433.20" stroke="#000" stroke-width="0.3"/>
<line x1="715.91" y1="26.15" x2="715.91" y2="28.35" stroke="#000" stroke-width="0.3"/>
<line x1="723.66" y1="435.40" x2="723.66" y2="433.20" stroke="#000" stroke-width="0.3"/>
<line x1="723.66" y1="26.15" x2="723.66" y2="28.35" stroke="#000" stroke-width="0.3"/>
<line x1="731.41" y1="435.40" x2="731.41" y2="433.20" stroke="#000" stroke-width="0.3"/>
<line x1="731.41" y1="26.15" x2="731.41" y2="28.35" stroke="#000" stroke-width="0.3"/>
<line x1="739.15" y1="435.40" x2="739.15" y2="431.00" stroke="#000" stroke-width="0.3"/>
<line x1="739.15" y1="26.15" x2="739.15" y2="30.55" stroke="#000" stroke-width="0.3"/>
<line x1="746.90" y1="435.40" x2="746.90" y2="433.20" stroke="#000" stroke-width="0.3"/>
<line x1="746.90" y1="26.15" x2="746.90" y2="28.35" stroke="#000" stroke-width="0.3"/>
<line x1="754.65" y1="435.40" x2="754.65" y2="433.20" stroke="#000" stroke-width="0.3"/>
<line x1="754.65" y1="26.15" x2="754.65" y2="28.35" stroke="#000" stroke-width="0.3"/>
<line x1="762.39" y1="435.40" x2="762.39" y2="433.20" stroke="#000" stroke-width="0.3"/>
<line x1="762.39" y1="26.15" x2="762.39" y2="28.35" stroke="#000" stroke-width="0.3"/>
<line x1="770.14" y1="435.40" x2="770.14" y2="433.20" stroke="#000" stroke-width="0.3"/>
<line x1="770.14" y1="26.15" x2="770.14" y2="28.35" stroke="#000" stroke-width="0.3"/>
<line x1="777.89" y1="435.40" x2="777.89" y2="433.20" stroke="#000" stroke-width="0.3"/>
<line x1="777.89" y1="26.15" x2="777.89" y2="28.35" stroke="#000" stroke-width="0.3"/>
<line x1="785.64" y1="435.40" x2="785.64" y2="433.20" stroke="#000" stroke-width="0.3"/>
<line x1="785.64" y1="26.15" x2="785.64" y2="28.35" stroke="#000" stroke-width="0.3"/>
<line x1="793.38" y1="435.40" x2="793.38" y2="433.20" stroke="#000" stroke-width="0.3"/>
<line x1="793.38" y1="26.15" x2="793.38" y2="28.35" stroke="#000" stroke-width="0.3"/>
<line x1="801.13" y1="435.40" x2="801.13" y2="431.00" stroke="#000" stroke-width="0.3"/>
<line x1="801.13" y1="26.15" x2="801.13" y2="30.55" stroke="#000" stroke-width="0.3"/>
<line x1="808.88" y1="435.40" x2="808.88" y2="433.20" stroke="#000" stroke-width="0.3"/>
<line x1="808.88" y1="26.15" x2="808.88" y2="28.35" stroke="#000" stroke-width="0.3"/>
<line x1="816.62" y1="435.40" x2="816.62" y2="433.20" stroke="#000" stroke-width="0.3"/>
<line x1="816.62" y1="26.15" x2="816.62" y2="28.35" stroke="#000" stroke-width="0.3"/>
<line x1="824.37" y1="435.40" x2="824.37" y2="433.20" stroke="#000" stroke-width="0.3"/>
<line x1="824.37" y1="26.15" x2="824.37" y2="28.35" stroke="#000" stroke-width="0.3"/>
<line x1="832.12" y1="435.40" x2="832.12" y2="433.20" stroke="#000" stroke-width="0.3"/>
<line x1="832.12" y1="26.15" x2="832.12" y2="28.35" stroke="#000" stroke-width="0.3"/>
<line x1="839.87" y1="435.40" x2="839.87" y2="433.20" stroke="#000" stroke-width="0.3"/>
<line x1="839.87" y1="26.15" x2="839.87" y2="28.35" stroke="#000" stroke-width="0.3"/>
<line x1="847.61" y1="435.40" x2="847.61" y2="433.20" stroke="#000" stroke-width="0.3"/>
<line x1="847.61" y1="26.15" x2="847.61" y2="28.35" stroke="#000" stroke-width="0.3"/>
<line x1="855.36" y1="435.40" x2="855.36" y2="433.20" stroke="#000" stroke-width="0.3"/>
<line x1="855.36" y1="26.15" x2="855.36" y2="28.35" stroke="#000" stroke-width="0.3"/>
<line x1="863.11" y1="435.40" x2="863.11" y2="431.00" stroke="#000" stroke-width="0.3"/>
<line x1="863.11" y1="26.15" x2="863.11" y2="30.55" stroke="#000" stroke-width="0.3"/>
<line x1="870.85" y1="435.40" x2="870.85" y2="433.20" stroke="#000" stroke-width="0.3"/>
<line x1="870.85" y1="26.15" x2="870.85" y2="28.35" stroke="#000" stroke-width="0.3"/>
<line x1="878.60" y1="435.40" x2="878.60" y2="433.20" stroke="#000" stroke-width="0.3"/>
<line x1="878.60" y1="26.15" x2="878.60" y2="28.35" stroke="#000" stroke-width="0.3"/>
<line x1="472.65" y1="435.40" x2="483.65" y2="435.40" stroke="#000" stroke-width="0.3"/>
<line x1="881.70" y1="435.40" x2="870.70" y2="435.40" stroke="#000" stroke-width="0.3"/>
<line x1="472.65" y1="394.33" x2="478.25" y2="394.33" stroke="#000" stroke-width="0.3"/>
<line x1="881.70" y1="394.33" x2="876.10" y2="394.33" stroke="#000" stroke-width="0.3"/>
<line x1="472.65" y1="370.31" x2="478.25" y2="370.31" stroke="#000" stroke-width="0.3"/>
<line x1="881.70" y1="370.31" x2="876.10" y2="370.31" stroke="#000" stroke-width="0.3"/>
<line x1="472.65" y1="353.27" x2="478.25" y2="353.27" stroke="#000" stroke-width="0.3"/>
<line x1="881.70" y1="353.27" x2="876.10" y2="353.27" stroke="#000" stroke-width="0.3"/>
<line x1="472.65" y1="340.05" x2="478.25" y2="340.05" stroke="#000" stroke-width="0.3"/>
<line x1="881.70" y1="340.05" x2="876.10" y2="340.05" stroke="#000" stroke-width="0.3"/>
<line x1="472.65" y1="329.25" x2="478.25" y2="329.25" stroke="#000" stroke-width="0.3"/>
<line x1="881.70" y1="329.25" x2="876.10" y2="329.25" stroke="#000" stroke-width="0.3"/>
<line x1="472.65" y1="320.11" x2="478.25" y2="320.11" stroke="#000" stroke-width="0.3"/>
<line x1="881.70" y1="320.11" x2="876.10" y2="320.11" stroke="#000" stroke-width="0.3"/>
<line x1="472.65" y1="312.20" x2="478.25" y2="312.20" stroke="#000" stroke-width="0.3"/>
<line x1="881.70" y1="312.20" x2="876.10" y2="312.20" stroke="#000" stroke-width="0.3"/>
<line x1="472.65" y1="305.23" x2="478.25" y2="305.23" stroke="#000" stroke-width="0.3"/>
<line x1="881.70" y1="305.23" x2="876.10" y2="305.23" stroke="#000" stroke-width="0.3"/>
<line x1="472.65" y1="298.98" x2="483.65" y2="298.98" stroke="#000" stroke-width="0.3"/>
<line x1="881.70" y1="298.98" x2="870.70" y2="298.98" stroke="#000" stroke-width="0.3"/>
<line x1="472.65" y1="257.92" x2="478.25" y2="257.92" stroke="#000" stroke-width="0.3"/>
<line x1="881.70" y1="257.92" x2="876.10" y2="257.92" stroke="#000" stroke-width="0.3"/>
<line x1="472.65" y1="233.90" x2="478.25" y2="233.90" stroke="#000" stroke-width="0.3"/>
<line x1="881.70" y1="233.90" x2="876.10" y2="233.90" stroke="#000" stroke-width="0.3"/>
<line x1="472.65" y1="216.85" x2="478.25" y2="216.85" stroke="#000" stroke-width="0.3"/>
<line x1="881.70" y1="216.85" x2="876.10" y2="216.85" stroke="#000" stroke-width="0.3"/>
<line x1="472.65" y1="203.63" x2="478.25" y2="203.63" stroke="#000" stroke-width="0.3"/>
<line x1="881.70" y1="203.63" x2="876.10" y2="203.63" stroke="#000" stroke-width="0.3"/>
<line x1="472.65" y1="192.83" x2="478.25" y2="192.83" stroke="#000" stroke-width="0.3"/>
<line x1="881.70" y1="192.83" x2="876.10" y2="192.83" stroke="#000" stroke-width="0.3"/>
<line x1="472.65" y1="183.70" x2="478.25" y2="183.70" stroke="#000" stroke-width="0.3"/>
<line x1="881.70" y1="183.70" x2="876.10" y2="183.70" stroke="#000" stroke-width="0.3"/>
<line x1="472.65" y1="175.79" x2="478.25" y2="175.79" stroke="#000" stroke-width="0.3"/>
<line x1="881.70" y1="175.79" x2="876.10" y2="175.79" stroke="#000" stroke-width="0.3"/>
<line x1="472.65" y1="168.81" x2="478.25" y2="168.81" stroke="#000" stroke-width="0.3"/>
<line x1="881.70" y1="168.81" x2="876.10" y2="168.81" stroke="#000" stroke-width="0.3"/>
<line x1="472.65" y1="162.57" x2="483.65" y2="162.57" stroke="#000" stroke-width="0.3"/>
<line x1="881.70" y1="162.57" x2="870.70" y2="162.57" stroke="#000" stroke-width="0.3"/>
<line x1="472.65" y1="121.50" x2="478.25" y2="121.50" stroke="#000" stroke-width="0.3"/>
<line x1="881.70" y1="121.50" x2="876.10" y2="121.50" stroke="#000" stroke-width="0.3"/>
<line x1="472.65" y1="97.48" x2="478.25" y2="97.48" stroke="#000" stroke-width="0.3"/>
<line x1="881.70" y1="97.48" x2="876.10" y2="97.48" stroke="#000" stroke-width="0.3"/>
<line x1="472.65" y1="80.44" x2="478.25" y2="80.44" stroke="#000" stroke-width="0.3"/>
<line x1="881.70" y1="80.44" x2="876.10" y2="80.44" stroke="#000" stroke-width="0.3"/>
<line x1="472.65" y1="67.22" x2="478.25" y2="67.22" stroke="#000" stroke-width="0.3"/>
<line x1="881.70" y1="67.22" x2="876.10" y2="67.22" stroke="#000" stroke-width="0.3"/>
<line x1="472.65" y1="56.41" x2="478.25" y2="56.41" stroke="#000" stroke-width="0.3"/>
<line x1="881.70" y1="56.41" x2="876.10" y2="56.41" stroke="#000" stroke-width="0.3"/>
<line x1="472.65" y1="47.28" x2="478.25" y2="47.28" stroke="#000" stroke-width="0.3"/>
<line x1="881.70" y1="47.28" x2="876.10" y2="47.28" stroke="#000" stroke-width="0.3"/>
<line x1="472.65" y1="39.37" x2="478.25" y2="39.37" stroke="#000" stroke-width="0.3"/>
<line x1="881.70" y1="39.37" x2="876.10" y2="39.37" stroke="#000" stroke-width="0.3"/>
<line x1="472.65" y1="32.39" x2="478.25" y2="32.39" stroke="#000" stroke-width="0.3"/>
<line x1="881.70" y1="32.39" x2="876.10" y2="32.39" stroke="#000" stroke-width="0.3"/>
<line x1="472.65" y1="26.15" x2="483.65" y2="26.15" stroke="#000" stroke-width="0.3"/>
<line x1="881.70" y1="26.15" x2="870.70" y2="26.15" stroke="#000" stroke-width="0.3"/>
<line x1="472.65" y1="26.15" x2="472.65" y2="435.40" stroke="#555" stroke-width="1.0"/>
<text x="82.19" y="453.2" font-family='"Liberation Serif", serif' font-size="20" text-anchor="middle" fill="#000" text-rendering="geometricPrecision" >180</text>
<text x="144.17" y="453.2" font-family='"Liberation Serif", serif' font-size="20" text-anchor="middle" fill="#000" text-rendering="geometricPrecision" >200</text>
<text x="206.15" y="453.2" font-family='"Liberation Serif", serif' font-size="20" text-anchor="middle" fill="#000" text-rendering="geometricPrecision" >220</text>
<text x="268.12" y="453.2" font-family='"Liberation Serif", serif' font-size="20" text-anchor="middle" fill="#000" text-rendering="geometricPrecision" >240</text>
<text x="330.10" y="453.2" font-family='"Liberation Serif", serif' font-size="20" text-anchor="middle" fill="#000" text-rendering="geometricPrecision" >260</text>
<text x="392.08" y="453.2" font-family='"Liberation Serif", serif' font-size="20" text-anchor="middle" fill="#000" text-rendering="geometricPrecision" >280</text>
<text x="454.06" y="453.2" font-family='"Liberation Serif", serif' font-size="20" text-anchor="middle" fill="#000" text-rendering="geometricPrecision" >300</text>
<text x="491.24" y="453.2" font-family='"Liberation Serif", serif' font-size="20" text-anchor="middle" fill="#000" text-rendering="geometricPrecision" >180</text>
<text x="553.22" y="453.2" font-family='"Liberation Serif", serif' font-size="20" text-anchor="middle" fill="#000" text-rendering="geometricPrecision" >200</text>
<text x="615.20" y="453.2" font-family='"Liberation Serif", serif' font-size="20" text-anchor="middle" fill="#000" text-rendering="geometricPrecision" >220</text>
<text x="677.17" y="453.2" font-family='"Liberation Serif", serif' font-size="20" text-anchor="middle" fill="#000" text-rendering="geometricPrecision" >240</text>
<text x="739.15" y="453.2" font-family='"Liberation Serif", serif' font-size="20" text-anchor="middle" fill="#000" text-rendering="geometricPrecision" >260</text>
<text x="801.13" y="453.2" font-family='"Liberation Serif", serif' font-size="20" text-anchor="middle" fill="#000" text-rendering="geometricPrecision" >280</text>
<text x="863.11" y="453.2" font-family='"Liberation Serif", serif' font-size="20" text-anchor="middle" fill="#000" text-rendering="geometricPrecision" >300</text>
<text x="60.6" y="440.80" font-family='"Liberation Serif", serif' font-size="20" text-anchor="end" fill="#000" text-rendering="geometricPrecision" >1</text>
<text x="884.6" y="440.80" font-family='"Liberation Serif", serif' font-size="20" text-anchor="start" fill="#000" text-rendering="geometricPrecision" >1</text>
<text x="60.6" y="305.18" font-family='"Liberation Serif", serif' font-size="20" text-anchor="end" fill="#000" text-rendering="geometricPrecision" >10<tspan font-size="14" dy="-7">1</tspan></text>
<text x="884.6" y="305.18" font-family='"Liberation Serif", serif' font-size="20" text-anchor="start" fill="#000" text-rendering="geometricPrecision" >10<tspan font-size="14" dy="-7">1</tspan></text>
<text x="60.6" y="168.77" font-family='"Liberation Serif", serif' font-size="20" text-anchor="end" fill="#000" text-rendering="geometricPrecision" >10<tspan font-size="14" dy="-7">2</tspan></text>
<text x="884.6" y="168.77" font-family='"Liberation Serif", serif' font-size="20" text-anchor="start" fill="#000" text-rendering="geometricPrecision" >10<tspan font-size="14" dy="-7">2</tspan></text>
<text x="60.6" y="32.35" font-family='"Liberation Serif", serif' font-size="20" text-anchor="end" fill="#000" text-rendering="geometricPrecision" >10<tspan font-size="14" dy="-7">3</tspan></text>
<text x="884.6" y="32.35" font-family='"Liberation Serif", serif' font-size="20" text-anchor="start" fill="#000" text-rendering="geometricPrecision" >10<tspan font-size="14" dy="-7">3</tspan></text>
<text x="224.50" y="478.9" font-family='"Liberation Serif", serif' font-size="20" fill="#000" text-rendering="geometricPrecision"><tspan font-style="italic">m</tspan><tspan font-style="italic" font-size="15.5" dy="2.9" dx="1.6">χ</tspan><tspan font-size="10" dy="2.2" dx="1.0">1</tspan><tspan dy="-5.1" dx="1.6"> </tspan><tspan>(GeV)</tspan></text>
<text x="633.55" y="478.9" font-family='"Liberation Serif", serif' font-size="20" fill="#000" text-rendering="geometricPrecision"><tspan font-style="italic">m</tspan><tspan font-style="italic" font-size="15.5" dy="2.9" dx="1.6">χ</tspan><tspan font-size="10" dy="2.2" dx="1.0">1</tspan><tspan dy="-5.1" dx="1.6"> </tspan><tspan>(GeV)</tspan></text>
<g transform="translate(22.8,271.8) rotate(-90)" font-family='"Liberation Serif", serif' font-size="20" fill="#000" text-rendering="geometricPrecision"><text x="0" y="0"><tspan font-style="italic">R</tspan><tspan dx="1">(</tspan><tspan font-style="italic" dx="-0.8">gg</tspan></text><path d="M40.6,-4.4 H53.6 M49.3,-8.4 Q50.6,-5.4 54.0,-4.4 Q50.6,-3.4 49.3,-0.4" fill="none" stroke="#000" stroke-width="1.15"/><text x="56.6" y="0"><tspan font-style="italic">hh</tspan>)</text></g>
<line x1="241.70" y1="50.90" x2="288.10" y2="50.90" stroke="#000000" stroke-width="2" stroke-linecap="square" stroke-dasharray="19.4 9.6"/>
<text x="333.50" y="53.50" font-family='"Liberation Serif", serif' font-size="16" fill="#000" text-rendering="geometricPrecision">λ<tspan font-style="italic" font-size="11.5" dy="3.5">ω</tspan><tspan dy="-3.5" dx="1.0">=</tspan><tspan dx="1.1">−</tspan><tspan dx="0.7">2.2,</tspan><tspan dx="1.2">λ</tspan><tspan font-style="italic" font-size="11.5" dy="3.5" dx="1.9">χ</tspan><tspan dy="-3.5" dx="2.1">=</tspan><tspan dx="1.8">3.5</tspan></text>
<line x1="241.70" y1="76.80" x2="288.10" y2="76.80" stroke="#ff0000" stroke-width="2" stroke-linecap="square" stroke-dasharray="7.3 7.1"/>
<text x="333.50" y="79.40" font-family='"Liberation Serif", serif' font-size="16" fill="#000" text-rendering="geometricPrecision">λ<tspan font-style="italic" font-size="11.5" dy="3.5">ω</tspan><tspan dy="-3.5" dx="1.0">=</tspan><tspan dx="1.1">−</tspan><tspan dx="0.7">2,</tspan><tspan dx="1.2">λ</tspan><tspan font-style="italic" font-size="11.5" dy="3.5" dx="1.9">χ</tspan><tspan dy="-3.5" dx="2.1">=</tspan><tspan dx="1.8">3</tspan></text>
<line x1="241.70" y1="102.70" x2="288.10" y2="102.70" stroke="#006400" stroke-width="2" stroke-linecap="square" stroke-dasharray="14.3 14.7"/>
<text x="333.50" y="105.30" font-family='"Liberation Serif", serif' font-size="16" fill="#000" text-rendering="geometricPrecision">λ<tspan font-style="italic" font-size="11.5" dy="3.5">ω</tspan><tspan dy="-3.5" dx="1.0">=</tspan><tspan dx="1.1">−</tspan><tspan dx="0.7">1.5,</tspan><tspan dx="1.2">λ</tspan><tspan font-style="italic" font-size="11.5" dy="3.5" dx="1.9">χ</tspan><tspan dy="-3.5" dx="2.1">=</tspan><tspan dx="1.8">3</tspan></text>
<line x1="241.70" y1="128.60" x2="288.10" y2="128.60" stroke="#0000ff" stroke-width="2" stroke-linecap="square" stroke-dasharray="18.7 8.6 1.7 8.5"/>
<text x="333.50" y="131.20" font-family='"Liberation Serif", serif' font-size="16" fill="#000" text-rendering="geometricPrecision">λ<tspan font-style="italic" font-size="11.5" dy="3.5">ω</tspan><tspan dy="-3.5" dx="1.0">=</tspan><tspan dx="1.1">−</tspan><tspan dx="0.7">1.5,</tspan><tspan dx="1.2">λ</tspan><tspan font-style="italic" font-size="11.5" dy="3.5" dx="1.9">χ</tspan><tspan dy="-3.5" dx="2.1">=</tspan><tspan dx="1.8">2</tspan></text>
<text x="333.50" y="158.1" font-family='"Liberation Serif", serif' font-size="16" fill="#000" text-rendering="geometricPrecision">Δ<tspan font-style="italic">m</tspan>=10 GeV</text>
<line x1="650.75" y1="50.90" x2="697.15" y2="50.90" stroke="#000000" stroke-width="2" stroke-linecap="square" stroke-dasharray="19.4 9.6"/>
<text x="742.55" y="53.50" font-family='"Liberation Serif", serif' font-size="16" fill="#000" text-rendering="geometricPrecision">λ<tspan font-style="italic" font-size="11.5" dy="3.5">ω</tspan><tspan dy="-3.5" dx="1.0">=</tspan><tspan dx="1.1">−</tspan><tspan dx="0.7">2.2,</tspan><tspan dx="1.2">λ</tspan><tspan font-style="italic" font-size="11.5" dy="3.5" dx="1.9">χ</tspan><tspan dy="-3.5" dx="2.1">=</tspan><tspan dx="1.8">3.5</tspan></text>
<line x1="650.75" y1="76.80" x2="697.15" y2="76.80" stroke="#ff0000" stroke-width="2" stroke-linecap="square" stroke-dasharray="7.3 7.1"/>
<text x="742.55" y="79.40" font-family='"Liberation Serif", serif' font-size="16" fill="#000" text-rendering="geometricPrecision">λ<tspan font-style="italic" font-size="11.5" dy="3.5">ω</tspan><tspan dy="-3.5" dx="1.0">=</tspan><tspan dx="1.1">−</tspan><tspan dx="0.7">2,</tspan><tspan dx="1.2">λ</tspan><tspan font-style="italic" font-size="11.5" dy="3.5" dx="1.9">χ</tspan><tspan dy="-3.5" dx="2.1">=</tspan><tspan dx="1.8">3</tspan></text>
<line x1="650.75" y1="102.70" x2="697.15" y2="102.70" stroke="#006400" stroke-width="2" stroke-linecap="square" stroke-dasharray="14.3 14.7"/>
<text x="742.55" y="105.30" font-family='"Liberation Serif", serif' font-size="16" fill="#000" text-rendering="geometricPrecision">λ<tspan font-style="italic" font-size="11.5" dy="3.5">ω</tspan><tspan dy="-3.5" dx="1.0">=</tspan><tspan dx="1.1">−</tspan><tspan dx="0.7">1.5,</tspan><tspan dx="1.2">λ</tspan><tspan font-style="italic" font-size="11.5" dy="3.5" dx="1.9">χ</tspan><tspan dy="-3.5" dx="2.1">=</tspan><tspan dx="1.8">3</tspan></text>
<line x1="650.75" y1="128.60" x2="697.15" y2="128.60" stroke="#0000ff" stroke-width="2" stroke-linecap="square" stroke-dasharray="18.7 8.6 1.7 8.5"/>
<text x="742.55" y="131.20" font-family='"Liberation Serif", serif' font-size="16" fill="#000" text-rendering="geometricPrecision">λ<tspan font-style="italic" font-size="11.5" dy="3.5">ω</tspan><tspan dy="-3.5" dx="1.0">=</tspan><tspan dx="1.1">−</tspan><tspan dx="0.7">1.5,</tspan><tspan dx="1.2">λ</tspan><tspan font-style="italic" font-size="11.5" dy="3.5" dx="1.9">χ</tspan><tspan dy="-3.5" dx="2.1">=</tspan><tspan dx="1.8">2</tspan></text>
<text x="742.55" y="158.1" font-family='"Liberation Serif", serif' font-size="16" fill="#000" text-rendering="geometricPrecision">Δ<tspan font-style="italic">m</tspan>=50 GeV</text>
</svg>
</body></html>
